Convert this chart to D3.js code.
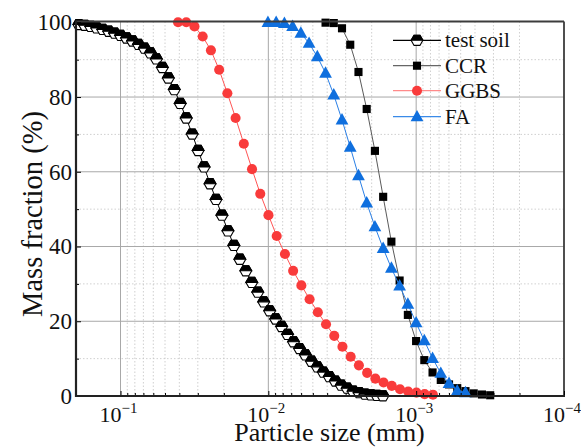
<!DOCTYPE html>
<html><head><meta charset="utf-8">
<script src="https://cdn.jsdelivr.net/npm/d3@7"></script>
<style>body{margin:0;background:#fff} svg text{font-family:"Liberation Serif","Times New Roman",serif}</style>
</head><body><svg id="c" width="581" height="447"></svg>
<script>
// ---- data (particle size in mm, cumulative mass fraction in %) ----
const sizeSoil = [0.1913,0.1744,0.1589,0.1448,0.1319,0.1202,0.1096,0.09986,0.09101,0.08293,0.07557,0.06887,0.06275,0.05719,0.05212,0.04749,0.04328,0.03944,0.03594,0.03275,0.02985,0.02720,0.02479,0.02259,0.02059,0.01876,0.01710,0.01558,0.01420,0.01294,0.01179,0.01075,0.009793,0.008925,0.008132,0.007411,0.006755,0.006153,0.005609,0.005110,0.004658,0.004245,0.003868,0.003525,0.003212,0.002927,0.002668,0.002431,0.002215,0.002019,0.001840,0.001677];
const massSoil = [99.4,99.2,98.9,98.5,98.1,97.6,97.1,96.5,95.8,95.0,94.1,93.1,91.8,90.2,87.9,85.1,82.0,78.3,74.4,70.1,65.7,61.3,56.8,52.6,48.4,44.2,40.3,36.6,33.5,30.4,27.8,25.2,22.8,20.6,18.6,16.5,14.5,12.7,11.0,9.3,7.8,6.4,5.2,4.0,2.9,2.1,1.3,0.9,0.5,0.3,0.15,0.05];

const sizeCCR = [0.004101,0.003609,0.003175,0.002792,0.002456,0.002161,0.001901,0.001672,0.001471,0.001294,0.001138,0.001001,0.0008808,0.0007747,0.0006816,0.0005995,0.0005275,0.0004639,0.0004081,0.0003589,0.0003157];
const massCCR = [99.9,99.8,98.4,94.0,86.7,76.8,65.6,53.3,41.3,30.9,21.7,14.7,9.6,6.3,4.3,3.1,2.1,1.3,0.7,0.4,0.2];

const sizeGGBS = [0.04081,0.03590,0.03159,0.02780,0.02445,0.02151,0.01893,0.01665,0.01465,0.01289,0.01134,0.009979,0.008780,0.007723,0.006795,0.005978,0.005260,0.004627,0.004072,0.003582,0.003152,0.002773,0.002440,0.002146,0.001888,0.001661,0.001462,0.001286,0.001132,0.0009956,0.0008760,0.0007704];
const massGGBS = [100,100,98.9,96.2,92.5,87.3,81.0,74.4,67.5,60.7,54.1,48.4,42.8,38.0,33.5,29.6,25.9,22.4,19.2,16.1,13.2,10.5,8.2,6.2,4.65,3.6,2.7,1.8,1.2,0.9,0.5,0.35];

const sizeFA = [0.010062,0.008851,0.007786,0.006851,0.006026,0.005302,0.004663,0.004101,0.003609,0.003175,0.002792,0.002456,0.002161,0.001901,0.001672,0.001471,0.001294,0.001138,0.001001,0.0008808,0.0007747,0.0006816,0.0005995,0.0005275,0.0004639];
const massFA = [100,100,99.7,98.9,97.1,94.4,90.8,86.4,80.6,73.9,66.6,59.0,51.7,45.3,39.5,34.2,29.5,24.6,19.6,14.8,10.1,6.1,3.4,1.4,0.9];

const seriesNames = ["test soil","CCR","GGBS","FA"];
const xMajorTicks = [0.1,0.01,0.001,0.0001];
const xTickExp = ["\u22121","\u22122","\u22123","\u22124"];
const yTicks = [0,20,40,60,80,100];
const yMinorTicks = [10,30,50,70,90];
const xLabel = "Particle size (mm)";
const yLabel = "Mass fraction (%)";

// ---- layout ----
const L = 76, R = 564, T = 21.5, B = 396;
const svg = d3.select("#c");
const x = d3.scaleLog().domain([0.2, 0.0001]).range([L, R]);
const y = d3.scaleLinear().domain([0, 100]).range([B, 22.3]);

const xMinor = [];
[0.0001,0.001,0.01,0.1].forEach(d => { for (let m = 2; m <= 9; m++) { const v = +(m*d).toPrecision(3); if (v <= 0.2) xMinor.push(v); } });

// grid
const g = svg.append("g");
g.selectAll(".gxm").data(xMinor).join("line")
  .attr("x1", d => x(d)).attr("x2", d => x(d)).attr("y1", T).attr("y2", B)
  .attr("stroke", "#c4c4c4").attr("stroke-width", 0.8).attr("stroke-dasharray", "1.5,2");
g.selectAll(".gym").data(yMinorTicks).join("line")
  .attr("x1", L).attr("x2", R).attr("y1", d => y(d)).attr("y2", d => y(d))
  .attr("stroke", "#c4c4c4").attr("stroke-width", 0.8).attr("stroke-dasharray", "1.5,2");
g.selectAll(".gx").data([0.1,0.01,0.001]).join("line")
  .attr("x1", d => x(d)).attr("x2", d => x(d)).attr("y1", T).attr("y2", B)
  .attr("stroke", "#a8a8a8").attr("stroke-width", 1);
g.selectAll(".gy").data([20,40,60,80]).join("line")
  .attr("x1", L).attr("x2", R).attr("y1", d => y(d)).attr("y2", d => y(d))
  .attr("stroke", "#a8a8a8").attr("stroke-width", 1);

// series
const line = d3.line().x(d => x(d[0])).y(d => y(d[1]));
const zip = (a, b) => a.map((v, i) => [v, b[i]]);
const dSoil = zip(sizeSoil, massSoil), dCCR = zip(sizeCCR, massCCR), dGGBS = zip(sizeGGBS, massGGBS), dFA = zip(sizeFA, massFA);

const hexTop = r => { const h = r*Math.sqrt(3)/2; return `M${-r},0L${-r/2},${-h}L${r/2},${-h}L${r},0Z`; };
const hexAll = r => { const h = r*Math.sqrt(3)/2; return `M${-r},0L${-r/2},${-h}L${r/2},${-h}L${r},0L${r/2},${h}L${-r/2},${h}Z`; };
function drawHex(sel, r) {
  sel.append("path").attr("d", hexAll(r)).attr("fill", "#fff").attr("stroke", "#000").attr("stroke-width", 1.1);
  sel.append("path").attr("d", hexTop(r)).attr("fill", "#000").attr("stroke", "#000").attr("stroke-width", 1.1);
}
const sqSym = d3.symbol().type(d3.symbolSquare).size(66);
const cirSym = d3.symbol().type(d3.symbolCircle).size(80);
const triPath = s => `M0,${-s*0.62}L${s*0.58},${s*0.42}L${-s*0.58},${s*0.42}Z`;

const colCCR = "#000", lineCCR = "#5a5a5a", colGGBS = "#f93b3b", lineGGBS = "#ff5555", colFA = "#0f6fde", lineFA = "#2a7fe6";

// test soil
svg.append("path").datum(dSoil).attr("d", line).attr("fill", "none").attr("stroke", "#000").attr("stroke-width", 1);
svg.append("g").selectAll("g").data(dSoil).join("g")
  .attr("transform", d => `translate(${x(d[0])},${y(d[1])})`).each(function(){ drawHex(d3.select(this), 5.9); });

// CCR
svg.append("path").datum(dCCR).attr("d", line).attr("fill", "none").attr("stroke", lineCCR).attr("stroke-width", 1);
svg.append("g").selectAll("path").data(dCCR).join("path")
  .attr("d", sqSym).attr("transform", d => `translate(${x(d[0])},${y(d[1])})`).attr("fill", colCCR);

// GGBS
svg.append("path").datum(dGGBS).attr("d", line).attr("fill", "none").attr("stroke", lineGGBS).attr("stroke-width", 1);
svg.append("g").selectAll("path").data(dGGBS).join("path")
  .attr("d", cirSym).attr("transform", d => `translate(${x(d[0])},${y(d[1])})`).attr("fill", colGGBS);

// FA
svg.append("path").datum(dFA).attr("d", line).attr("fill", "none").attr("stroke", lineFA).attr("stroke-width", 1);
svg.append("g").selectAll("path").data(dFA).join("path")
  .attr("d", triPath(11)).attr("transform", d => `translate(${x(d[0])},${y(d[1])})`).attr("fill", colFA);

// frame (top, right)
svg.append("line").attr("x1", L).attr("x2", R).attr("y1", T).attr("y2", T).attr("stroke", "#3c3c3c").attr("stroke-width", 1.8);
svg.append("line").attr("x1", R).attr("x2", R).attr("y1", T).attr("y2", B).attr("stroke", "#3c3c3c").attr("stroke-width", 1.8);

// axes
const ax = svg.append("g").attr("transform", `translate(0,${B})`)
  .call(d3.axisBottom(x).tickValues(xMajorTicks).tickSize(-5).tickFormat(""));
const axm = svg.append("g").attr("transform", `translate(0,${B})`)
  .call(d3.axisBottom(x).tickValues(xMinor).tickSize(-3).tickFormat(""));
const ay = svg.append("g").attr("transform", `translate(${L},0)`)
  .call(d3.axisLeft(y).tickValues(yTicks).tickSize(-5).tickPadding(4));
const aym = svg.append("g").attr("transform", `translate(${L},0)`)
  .call(d3.axisLeft(y).tickValues(yMinorTicks).tickSize(-3).tickFormat(""));
[ax, axm, ay, aym].forEach(a => { a.selectAll(".tick line").attr("stroke", "#000").attr("stroke-width", 1); a.select(".domain").remove(); });
ay.selectAll("text").attr("font-size", 23).attr("fill", "#111").attr("font-family", "Liberation Serif");
svg.append("line").attr("x1", L).attr("x2", R + 1).attr("y1", B).attr("y2", B).attr("stroke", "#222").attr("stroke-width", 2.2);
svg.append("line").attr("x1", L).attr("x2", L).attr("y1", T - 1).attr("y2", B + 1).attr("stroke", "#222").attr("stroke-width", 2.2);

// x tick labels with superscripts
const xl = svg.append("g").selectAll("text").data(xMajorTicks).join("text")
  .attr("x", d => x(d) - 2).attr("y", 421.5).attr("text-anchor", "middle").attr("fill", "#111").attr("font-size", 22);
xl.append("tspan").text("10");
xl.append("tspan").attr("dy", -9).attr("font-size", 15).text((d, i) => xTickExp[i]);

// axis titles
svg.append("text").attr("x", 329.5).attr("y", 441).attr("text-anchor", "middle").attr("font-size", 26).attr("fill", "#111").text(xLabel);
svg.append("text").attr("transform", "translate(42,214) rotate(-90)").attr("text-anchor", "middle").attr("font-size", 28.5).attr("fill", "#111").text(yLabel);

// legend
const legY = [40.3, 65.7, 90.7, 116.7];
const lg = svg.append("g");
const lineCols = ["#000", "#666", "#ff8a8a", "#3a8ae8"];
seriesNames.forEach((n, i) => {
  lg.append("line").attr("x1", 393).attr("x2", 441).attr("y1", legY[i]).attr("y2", legY[i]).attr("stroke", lineCols[i]).attr("stroke-width", 1.3);
  const m = lg.append("g").attr("transform", `translate(417,${legY[i]})`);
  if (i === 0) drawHex(m, 5.9);
  if (i === 1) m.append("path").attr("d", sqSym()).attr("fill", colCCR);
  if (i === 2) m.append("path").attr("d", cirSym()).attr("fill", colGGBS);
  if (i === 3) m.append("path").attr("d", triPath(11)).attr("fill", colFA);
  lg.append("text").attr("x", 445).attr("y", legY[i] + 7).attr("font-size", 21).attr("fill", "#111").text(n);
});
</script></body></html>
